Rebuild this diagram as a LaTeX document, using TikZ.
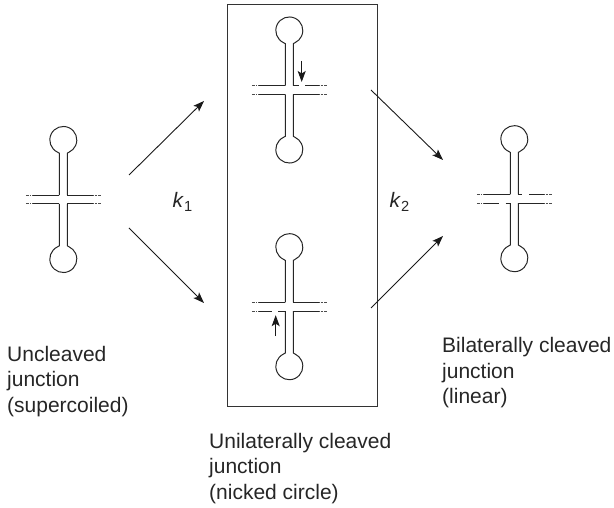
\documentclass[tikz,border=0pt]{standalone}
\usepackage{fontspec}
\setmainfont{Liberation Sans}
\usetikzlibrary{arrows.meta}
\tikzset{
  strand/.style={line width=1pt,color=black!85},
  tail/.style={line width=1pt,color=black!70,dash pattern=on 3pt off 1pt on 1.5pt off 1pt},
  flow/.style={line width=0.9pt,color=black!90,-{Stealth[length=11pt,width=8pt,inset=2.5pt]}},
  frame/.style={line width=0.9pt,color=black!80},
  caption/.style={anchor=base west,font=\fontsize{21}{25.5}\selectfont,align=left,inner sep=0pt,text=black!85},
  rate/.style={anchor=base west,font=\fontsize{20.9}{24}\selectfont,inner sep=0pt,text=black!85}
}
% Stems, terminal loops and arm tails of one cruciform; local origin at its centre.
\newcommand{\cruciform}{%
  \draw[strand] (-4,4.4) -- (-4,46.3) -- (-5.7,47.3) arc[start angle=-115,end angle=-425,radius=13.5] -- (4,46.3) -- (4,4.4);
  \draw[strand] (-4,-4.4) -- (-4,-46.3) -- (-5.7,-47.3) arc[start angle=115,end angle=425,radius=13.5] -- (4,-46.3) -- (4,-4.4);
  \foreach \yy in {4.4,-4.4} {
    \draw[tail] (-37.5,\yy) -- (-30,\yy);
    \draw[tail] (37.5,\yy) -- (30,\yy);
  }}
% Solid arm segment: x from, x to, y level.
\newcommand{\armseg}[3]{\draw[strand] (#1,#3) -- (#2,#3);}
\begin{document}
\begin{tikzpicture}[x=1pt,y=1pt]
  \useasboundingbox (0,0) rectangle (614,508);

  % Intact junction
  \begin{scope}[shift={(63.3,308.5)}]
    \cruciform
    \armseg{-30}{-4}{4.4}\armseg{4}{30}{4.4}
    \armseg{-30}{-4}{-4.4}\armseg{4}{30}{-4.4}
  \end{scope}

  % Junction nicked in the upper right arm
  \begin{scope}[shift={(289.3,418)}]
    \cruciform
    \armseg{-30}{-4}{4.4}\armseg{4}{9.7}{4.4}\armseg{15.7}{30}{4.4}
    \armseg{-30}{-4}{-4.4}\armseg{4}{30}{-4.4}
    \coordinate (n1a) at (12.4,29);
    \coordinate (n1b) at (12.4,8);
  \end{scope}

  % Junction nicked in the lower left arm
  \begin{scope}[shift={(289.3,201.3)}]
    \cruciform
    \armseg{-30}{-4}{4.4}\armseg{4}{30}{4.4}
    \armseg{-30}{-17.6}{-4.4}\armseg{-11}{-4}{-4.4}\armseg{4}{30}{-4.4}
    \coordinate (n2a) at (-13.6,-29.5);
    \coordinate (n2b) at (-13.6,-8.5);
  \end{scope}

  % Junction nicked in both strands
  \begin{scope}[shift={(514.3,309.3)}]
    \cruciform
    \armseg{-30}{-4}{4.4}\armseg{4}{7.4}{4.4}\armseg{14.7}{30}{4.4}
    \armseg{-30}{-15}{-4.4}\armseg{-8.6}{-4}{-4.4}\armseg{4}{30}{-4.4}
  \end{scope}

  \draw[flow] (n1a) -- (n1b);
  \draw[flow] (n2a) -- (n2b);

  % Frame round the two unilaterally cleaved forms
  \draw[frame] (227,504) rectangle (377,102);

  % Reaction arrows
  \coordinate (a1s) at (129,333);
  \coordinate (a1e) at (204,407);
  \coordinate (a2s) at (129,280);
  \coordinate (a2e) at (204,205);
  \coordinate (a3s) at (371,418);
  \coordinate (a3e) at (443,348);
  \coordinate (a4s) at (371,200);
  \coordinate (a4e) at (443,272);
  \draw[flow] (a1s) -- (a1e);
  \draw[flow] (a2s) -- (a2e);
  \draw[flow] (a3s) -- (a3e);
  \draw[flow] (a4s) -- (a4e);

  % Rate constants
  \node[rate] (k1) at (172.5,300) {\textit{k}\textsubscript{1}};
  \node[rate] (k2) at (389.5,300) {\textit{k}\textsubscript{2}};

  % Captions (anchored on the baseline of the last line)
  \node[caption] (c1) at (7,95.5) {Uncleaved\\junction\\(supercoiled)};
  \node[caption] (c2) at (209,8.5) {Unilaterally cleaved\\junction\\(nicked circle)};
  \node[caption] (c3) at (442,104) {Bilaterally cleaved\\junction\\(linear)};
\end{tikzpicture}
\end{document}
